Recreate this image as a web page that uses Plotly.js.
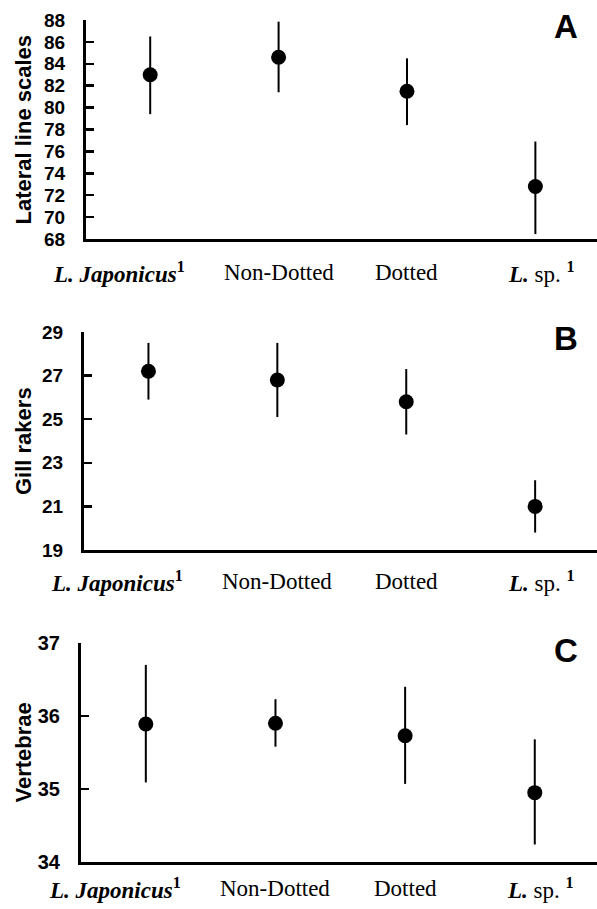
<!DOCTYPE html>
<html>
<head>
<meta charset="utf-8">
<script src="https://cdn.plot.ly/plotly-3.0.1.min.js"></script>
<style>
  html, body { margin: 0; padding: 0; background: #fff; }
  #chart { width: 597px; height: 909px; }
</style>
</head>
<body>
<div id="chart"></div>
<script>
// Meristic counts for four Lateolabrax groups (mean with range bars)
const groups = ['L. Japonicus', 'Non-Dotted', 'Dotted', 'L. sp.'];
const groupLabels = [
  '<b><i>L. Japonicus</i><sup>1</sup></b>',
  'Non-Dotted',
  'Dotted',
  '<b><i>L.</i></b> sp. <b><sup>1</sup></b>'
];

// A: lateral line scales
const lateralMean = [83.0, 84.6, 81.5, 72.8];
const lateralHigh = [86.5, 87.85, 84.5, 76.9];
const lateralLow  = [79.4, 81.4, 78.4, 68.45];

// B: gill rakers
const gillMean = [27.2, 26.8, 25.8, 21.0];
const gillHigh = [28.5, 28.5, 27.3, 22.2];
const gillLow  = [25.9, 25.1, 24.3, 19.8];

// C: vertebrae
const vertMean = [35.89, 35.90, 35.73, 34.95];
const vertHigh = [36.70, 36.23, 36.40, 35.68];
const vertLow  = [35.09, 35.58, 35.07, 34.24];

const panelTitles = ['Lateral line scales', 'Gill rakers', 'Vertebrae'];
const panelLetters = ['A', 'B', 'C'];

const W = 597, H = 909;
const px = v => v / W;
const py = v => 1 - v / H;

const xIdx = groups.map((_, i) => i);

function trace(mean, hi, lo, n) {
  return {
    type: 'scatter',
    mode: 'markers',
    x: xIdx,
    y: mean,
    xaxis: 'x' + (n === 1 ? '' : n),
    yaxis: 'y' + (n === 1 ? '' : n),
    marker: { color: '#000', size: 15 },
    error_y: {
      type: 'data',
      symmetric: false,
      array: hi.map((h, i) => h - mean[i]),
      arrayminus: lo.map((l, i) => mean[i] - l),
      color: '#000',
      thickness: 2,
      width: 0
    },
    hoverinfo: 'skip',
    showlegend: false
  };
}

const data = [
  trace(lateralMean, lateralHigh, lateralLow, 1),
  trace(gillMean, gillHigh, gillLow, 2),
  trace(vertMean, vertHigh, vertLow, 3)
];

// panel geometry (pixels): left edge of plot, top and bottom of y axis
const panels = [
  { left: 86, top: 20, bottom: 239, range: [68, 88], dtick: 2, tick0: 68, tickSize: 19, labelGap: 33 },
  { left: 84, top: 332, bottom: 550, range: [19, 29], dtick: 2, tick0: 19, tickSize: 19, labelGap: 31 },
  { left: 81, top: 643, bottom: 862, range: [34, 37], dtick: 1, tick0: 34, tickSize: 20, labelGap: 26 }
];
const labelNudge = [-31, 0, 0, 6];

const sansBold = 'Liberation Sans Narrow, Liberation Sans, Arial, sans-serif';

const layout = {
  width: W,
  height: H,
  margin: { l: 0, r: 0, t: 0, b: 0 },
  paper_bgcolor: '#fff',
  plot_bgcolor: '#fff',
  showlegend: false,
  annotations: []
};

panels.forEach((p, k) => {
  const sfx = k === 0 ? '' : String(k + 1);
  layout['xaxis' + sfx] = {
    domain: [px(p.left), 1],
    range: [-0.5, 3.48],
    anchor: 'y' + sfx,
    showline: true,
    linecolor: '#000',
    linewidth: 3,
    showgrid: false,
    zeroline: false,
    showticklabels: false,
    ticks: '',
    fixedrange: true
  };
  layout['yaxis' + sfx] = {
    domain: [py(p.bottom), py(p.top)],
    range: p.range,
    anchor: 'x' + sfx,
    tickmode: 'linear',
    tick0: p.tick0,
    dtick: p.dtick,
    showline: true,
    linecolor: '#000',
    linewidth: 3,
    ticks: 'inside',
    ticklen: 8,
    tickwidth: 2.5,
    tickcolor: '#000',
    ticklabelstandoff: 14,
    tickfont: { family: sansBold, size: p.tickSize, color: '#000', weight: 700 },
    showgrid: false,
    zeroline: false,
    fixedrange: true
  };

  // y-axis title
  layout.annotations.push({
    text: panelTitles[k],
    xref: 'paper', yref: 'y' + sfx + ' domain',
    x: px(23), y: 0.5,
    xanchor: 'center', yanchor: 'middle',
    textangle: -90,
    showarrow: false,
    font: { family: 'Liberation Sans, Arial, sans-serif', size: 22, color: '#000', weight: 700 }
  });

  // panel letter
  layout.annotations.push({
    text: panelLetters[k],
    xref: 'paper', yref: 'paper',
    x: px(566), y: py(p.top + (k === 0 ? 6 : 7)),
    xanchor: 'center', yanchor: 'middle',
    showarrow: false,
    font: { family: 'Liberation Sans, Arial, sans-serif', size: 33, color: '#000', weight: 700 }
  });

  // group labels under the x axis
  groupLabels.forEach((lab, i) => {
    layout.annotations.push({
      text: lab,
      xref: 'x' + sfx, yref: 'y' + sfx + ' domain',
      x: i, y: 0,
      xanchor: 'center', yanchor: 'middle',
      xshift: labelNudge[i],
      yshift: -p.labelGap,
      showarrow: false,
      font: { family: 'Liberation Serif, Times New Roman, serif', size: 23, color: '#000' }
    });
  });
});

Plotly.newPlot('chart', data, layout, { displayModeBar: false, staticPlot: true });
</script>
</body>
</html>
